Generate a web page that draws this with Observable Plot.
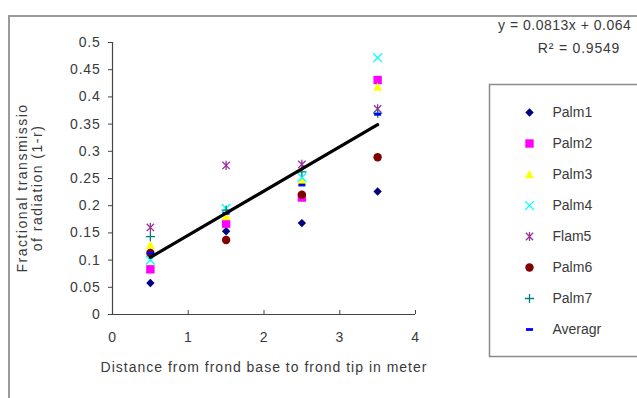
<!DOCTYPE html>
<html>
<head>
<meta charset="utf-8">
<script src="https://cdn.jsdelivr.net/npm/d3@7"></script>
<script src="https://cdn.jsdelivr.net/npm/@observablehq/plot@0.6"></script>
<style>
  html, body { margin: 0; padding: 0; background: #fff; }
  #wrap { position: relative; width: 637px; height: 398px; overflow: hidden; background: #fff;
          font-family: "Liberation Sans", Arial, sans-serif; color: #3a3a3a; }
  #border { position: absolute; left: 8px; top: 15px; width: 700px; height: 500px;
            border-top: 2px solid #9a9a9a; border-left: 2px solid #9a9a9a; }
  .abs { position: absolute; white-space: nowrap; font-size: 14px; letter-spacing: 0.8px; }
  #main { position: absolute; left: 0; top: 0; width: 637px; height: 398px; }
  #legend { position: absolute; left: 489px; top: 84px; width: 170px; height: 272px; }
  #main svg, #legend svg { max-width: none !important; display: block; }
  #main svg text { letter-spacing: 0.8px; }
  #legend svg text { letter-spacing: 0px; }
</style>
</head>
<body>
<div id="wrap">
  <div id="border"></div>
  <div id="main"></div>
  <div id="legend"></div>
  <div class="abs" id="eq1" style="left:498px; top:17px; letter-spacing:0.5px;"></div>
  <div class="abs" id="eq2" style="left:579px; top:40px; transform:translateX(-50%);"></div>
  <div class="abs" id="ytitle" style="left:30px; top:188px; transform:translate(-50%,-50%) rotate(-90deg); text-align:center; line-height:15px; letter-spacing:1.5px;"></div>
  <div class="abs" id="xtitle" style="left:264px; top:359px; transform:translateX(-50%); letter-spacing:1px;"></div>
</div>
<script>
// ---- data ----
const xs = [0.5, 1.5, 2.5, 3.5];
const palm1 = [0.058, 0.153, 0.168, 0.226];
const palm2 = [0.083, 0.167, 0.215, 0.431];
const palm3 = [0.127, 0.180, 0.245, 0.418];
const palm4 = [0.100, 0.195, 0.252, 0.472];
const palm5 = [0.160, 0.274, 0.276, 0.378];
const palm6 = [0.113, 0.137, 0.220, 0.289];
const palm7 = [0.143, 0.192, 0.262, 0.370];
const average = [0.113, 0.186, 0.238, 0.368];
const seriesNames = ["Palm1", "Palm2", "Palm3", "Palm4", "Flam5", "Palm6", "Palm7", "Averagr"];
const trendSlope = 0.0813;
const trendIntercept = 0.0645;
const equationText = "y = 0.0813x + 0.064";
const r2Text = "R² = 0.9549";
const xTicks = [0, 1, 2, 3, 4];
const xTickLabels = ["0", "1", "2", "3", "4"];
const yTicks = [0, 0.05, 0.1, 0.15, 0.2, 0.25, 0.3, 0.35, 0.4, 0.45, 0.5];
const yTickLabels = ["0", "0.05", "0.1", "0.15", "0.2", "0.25", "0.3", "0.35", "0.4", "0.45", "0.5"];
const xTitle = "Distance from frond base to frond tip in meter";
const yTitleLines = ["Fractional transmissio", "of radiation (1-r)"];

// ---- styles ----
const sym = (fn) => ({ draw(ctx, size) { const r = Math.sqrt(size / Math.PI); fn(ctx, r); } });
const diamondSym = sym((c, r) => { c.moveTo(0, -r); c.lineTo(r, 0); c.lineTo(0, r); c.lineTo(-r, 0); c.closePath(); });
const squareSym = sym((c, r) => { c.rect(-r, -r, 2 * r, 2 * r); });
const triangleSym = sym((c, r) => { c.moveTo(0, -r); c.lineTo(r, r * 0.8); c.lineTo(-r, r * 0.8); c.closePath(); });
const timesSym = sym((c, r) => { c.moveTo(-r, -r); c.lineTo(r, r); c.moveTo(-r, r); c.lineTo(r, -r); });
const starSym = sym((c, r) => { const k = r * 0.8; c.moveTo(-k, -k); c.lineTo(k, k); c.moveTo(-k, k); c.lineTo(k, -k); c.moveTo(0, -r); c.lineTo(0, r); });
const circleSym = sym((c, r) => { c.moveTo(r, 0); c.arc(0, 0, r, 0, 2 * Math.PI); });
const plusSym = sym((c, r) => { c.moveTo(-r, 0); c.lineTo(r, 0); c.moveTo(0, -r); c.lineTo(0, r); });
const dashSym = sym((c, r) => { c.rect(-r, -r * 0.4, 2 * r, r * 0.8); });

const seriesValues = [palm1, palm2, palm3, palm4, palm5, palm6, palm7, average];
const seriesStyle = [
  { symbol: diamondSym, color: "#000080", filled: true, r: 4.2 },
  { symbol: squareSym, color: "#FF00FF", filled: true, r: 4.2 },
  { symbol: triangleSym, color: "#FFFF00", filled: true, r: 4.6 },
  { symbol: timesSym, color: "#00FFFF", filled: false, r: 4.4 },
  { symbol: starSym, color: "#993399", filled: false, r: 4.6 },
  { symbol: circleSym, color: "#800000", filled: true, r: 4.2 },
  { symbol: plusSym, color: "#008080", filled: false, r: 4.6 },
  { symbol: dashSym, color: "#0000FF", filled: true, r: 3.5 }
];

const dotMark = (data, st, opts) => Plot.dot(data, {
  ...opts,
  symbol: st.symbol,
  r: st.r,
  fill: st.filled ? st.color : "none",
  stroke: st.filled ? "none" : st.color,
  strokeWidth: st.filled ? 0 : 1.3
});

const fontStyle = { fontFamily: "'Liberation Sans', Arial, sans-serif", fontSize: "14px", color: "#3a3a3a", background: "transparent", overflow: "visible" };

// ---- main chart ----
const pointMarks = seriesValues.map((vals, s) =>
  dotMark(xs.map((x, i) => ({ x, y: vals[i] })), seriesStyle[s], { x: "x", y: "y" })
);
const xExt = d3.extent(xs);
const trend = xExt.map(x => ({ x, y: trendSlope * x + trendIntercept }));

const main = Plot.plot({
  width: 637, height: 398,
  marginLeft: 112, marginRight: 222, marginTop: 42, marginBottom: 84,
  x: { domain: [0, 4] },
  y: { domain: [0, 0.5] },
  style: fontStyle,
  marks: [
    Plot.axisY({ ticks: yTicks, tickFormat: d => yTickLabels[yTicks.indexOf(d)], tickSize: 4, tickPadding: 8, label: null, stroke: "#444", fontSize: 14, fill: "#3a3a3a" }),
    Plot.axisX({ ticks: xTicks, tickFormat: d => xTickLabels[xTicks.indexOf(d)], tickSize: -4, tickPadding: 22, label: null, stroke: "#444", fontSize: 14, fill: "#3a3a3a" }),
    Plot.ruleX([0], { stroke: "#444", strokeWidth: 1.2 }),
    Plot.ruleY([0], { stroke: "#444", strokeWidth: 1.2 }),
    ...pointMarks,
    Plot.line(trend, { x: "x", y: "y", stroke: "#000", strokeWidth: 3.2 })
  ]
});
document.getElementById("main").appendChild(main);

// ---- legend ----
const legend = Plot.plot({
  width: 170, height: 272,
  margin: 0,
  x: { axis: null },
  y: { type: "point", domain: seriesNames, range: [12, 261], axis: null },
  style: fontStyle,
  marks: [
    Plot.frame({ stroke: "#8a8a8a", strokeWidth: 1.5 }),
    ...seriesNames.map((n, s) => dotMark([n], seriesStyle[s], { y: d => d, frameAnchor: "left", dx: 40 })),
    Plot.text(seriesNames, { y: d => d, text: d => d, frameAnchor: "left", dx: 63, textAnchor: "start", fill: "#3a3a3a", fontSize: 14 })
  ]
});
document.getElementById("legend").appendChild(legend);

document.getElementById("eq1").textContent = equationText;
document.getElementById("eq2").textContent = r2Text;
document.getElementById("xtitle").textContent = xTitle;
document.getElementById("ytitle").innerHTML = yTitleLines.join("<br>");
</script>
</body>
</html>
